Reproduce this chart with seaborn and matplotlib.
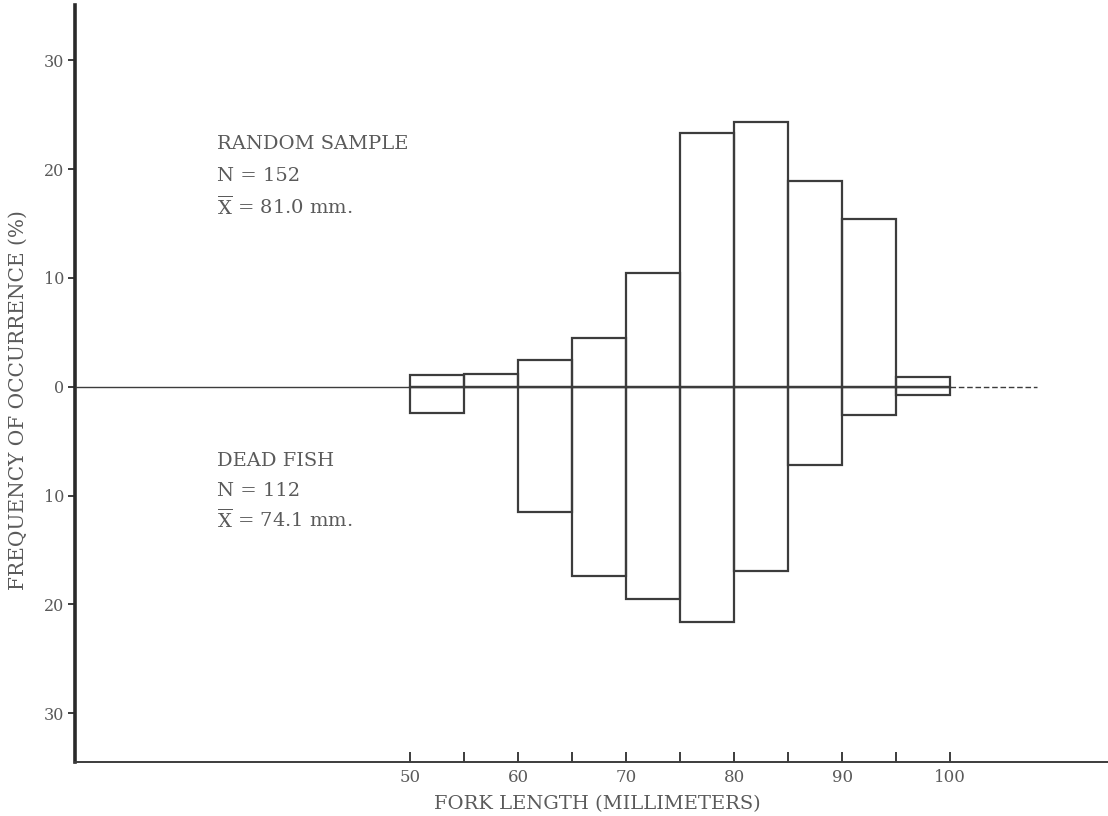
import numpy as np
import matplotlib
matplotlib.use("Agg")
import matplotlib.pyplot as plt
import seaborn as sns

# ---- data ----
bin_mid_mm = [52.5, 57.5, 62.5, 67.5, 72.5, 77.5, 82.5, 87.5, 92.5, 97.5]
random_sample_pct = [1.1, 1.2, 2.5, 4.5, 10.5, 23.3, 24.3, 18.9, 15.4, 0.9]
dead_fish_pct = [2.4, 0.0, 11.5, 17.4, 19.5, 21.6, 16.9, 7.2, 2.6, 0.8]
x_ticks_minor = [50, 55, 60, 65, 70, 75, 80, 85, 90, 95, 100]
y_ticks = [30, 20, 10, 0, -10, -20, -30]
y_tick_labels = ["30", "20", "10", "0", "10", "20", "30"]

sns.set_style("white")
plt.rcParams["font.family"] = ["DejaVu Serif"]
plt.rcParams["mathtext.fontset"] = "dejavuserif"

line_c = "#3c3c3c"
text_c = "#5a5a5a"

fig = plt.figure(figsize=(11.08, 8.16), dpi=100)
ax = fig.add_axes([0.0677, 0.066, 0.9323, 0.928])

sns.barplot(x=bin_mid_mm, y=random_sample_pct, native_scale=True, width=1.0,
            fill=False, color=line_c, linewidth=1.6, errorbar=None, ax=ax)
sns.barplot(x=bin_mid_mm, y=[-v for v in dead_fish_pct], native_scale=True, width=1.0,
            fill=False, color=line_c, linewidth=1.6, errorbar=None, ax=ax)

# zero reference line
ax.hlines(0, 19.0, 100, color=line_c, linewidth=1.0, zorder=5)
ax.hlines(0, 100, 108, color=line_c, linewidth=1.0, linestyles=(0, (4, 2)), zorder=5)

ax.set_xlim(19.0, 114.6)
ax.set_ylim(-34.5, 35.1)

for s in ["top", "right"]:
    ax.spines[s].set_visible(False)
ax.spines["left"].set_linewidth(2.6)
ax.spines["left"].set_color("#2a2a2a")
ax.spines["bottom"].set_linewidth(1.4)
ax.spines["bottom"].set_color(line_c)

ax.set_xticks(x_ticks_minor)
ax.set_xticklabels([str(t) if t % 10 == 0 else "" for t in x_ticks_minor])
ax.tick_params(axis="x", direction="in", length=7, width=1.4, color=line_c,
               pad=5, labelsize=12, labelcolor=text_c, bottom=True)
ax.set_yticks(y_ticks)
ax.set_yticklabels(y_tick_labels)
ax.tick_params(axis="y", direction="out", length=5, width=1.4, color=line_c,
               pad=3, labelsize=11.5, labelcolor=text_c, left=True)

ax.set_xlabel("FORK LENGTH (MILLIMETERS)", fontsize=14, color=text_c)
ax.xaxis.label.set_va("center")
ax.xaxis.set_label_coords(0.506, -0.055)
ax.set_ylabel("FREQUENCY OF OCCURRENCE (%)", fontsize=14.5, color=text_c)
ax.yaxis.label.set_va("center")
ax.yaxis.set_label_coords(-0.055, 0.478)

txt = dict(fontsize=14, color=text_c, ha="left", va="center")
ax.text(32.1, 22.3, "RANDOM SAMPLE", **txt)
ax.text(32.1, 19.4, "N = 152", **txt)
ax.text(32.1, 16.5, r"$\overline{\mathrm{X}}$ = 81.0 mm.", **txt)
ax.text(32.1, -6.8, "DEAD FISH", **txt)
ax.text(32.1, -9.6, "N = 112", **txt)
ax.text(32.1, -12.2, r"$\overline{\mathrm{X}}$ = 74.1 mm.", **txt)

fig.savefig("out.png", dpi=100)
